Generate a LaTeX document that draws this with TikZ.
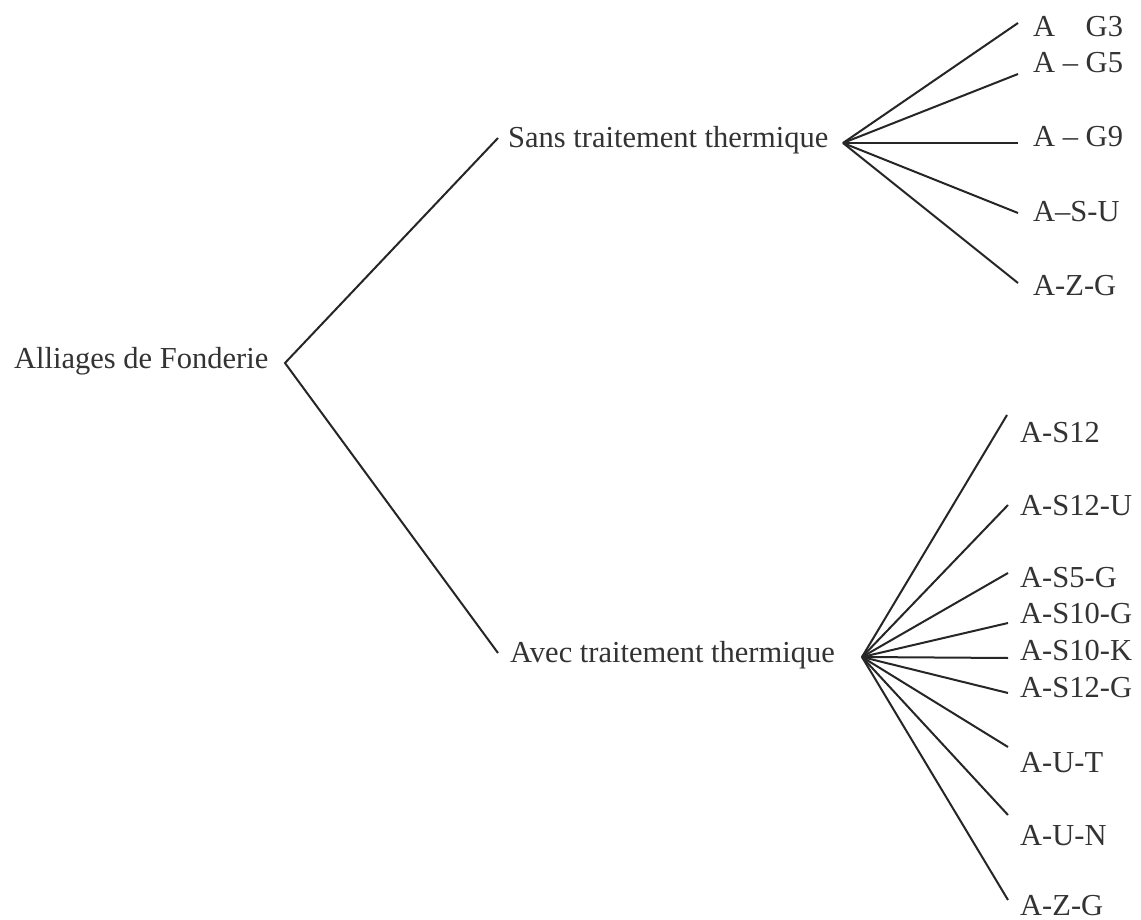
\documentclass[tikz,border=0pt]{standalone}
\usepackage{fontspec}
\setmainfont{Liberation Serif}
\begin{document}
\begin{tikzpicture}[x=1pt,y=-1pt,
  lbl/.style={anchor=base west,inner sep=0pt,text=black!80,font=\fontsize{30.5}{36}\selectfont},
  br/.style={draw=black!85,line width=2pt}]
\useasboundingbox[fill=white] (0,0) rectangle (1141,920);
% main nodes
\node[lbl] (root) at (14,368) {Alliages de Fonderie};
\node[lbl] (sans) at (508,148) {Sans traitement thermique};
\node[lbl] (avec) at (510,662) {Avec traitement thermique};
% hubs
\coordinate (hr) at (285,363);
\coordinate (hs) at (843,143);
\coordinate (ha) at (862,657);
\coordinate (es) at (498,138);
\coordinate (ea) at (498,653);
\draw[br] (es) -- (hr) -- (ea);
% Sans leaves
\node[lbl] (g3) at (1033,37) {A\phantom{ – }G3};
\node[lbl] (g5) at (1033,73) {A – G5};
\node[lbl] (g9) at (1033,147) {A – G9};
\node[lbl] (su) at (1033,222) {A–S-U};
\node[lbl] (zg1) at (1033,295) {A-Z-G};
\coordinate (c1) at (1018,23);
\coordinate (c2) at (1018,74);
\coordinate (c3) at (1018,143);
\coordinate (c4) at (1018,213);
\coordinate (c5) at (1018,283);
\foreach \c in {c1,c2,c3,c4,c5} \draw[br] (hs) -- (\c);
% Avec leaves
\node[lbl] (s12) at (1020,442) {A-S12};
\node[lbl] (s12u) at (1020,515) {A-S12-U};
\node[lbl] (s5g) at (1020,587) {A-S5-G};
\node[lbl] (s10g) at (1020,623) {A-S10-G};
\node[lbl] (s10k) at (1020,660) {A-S10-K};
\node[lbl] (s12g) at (1020,697) {A-S12-G};
\node[lbl] (ut) at (1020,772) {A-U-T};
\node[lbl] (un) at (1020,845) {A-U-N};
\node[lbl] (zg2) at (1020,915) {A-Z-G};
\coordinate (d1) at (1007,415);
\coordinate (d2) at (1008,505);
\coordinate (d3) at (1008,573);
\coordinate (d4) at (1008,623);
\coordinate (d5) at (1008,658);
\coordinate (d6) at (1008,693);
\coordinate (d7) at (1008,747);
\coordinate (d8) at (1008,815);
\coordinate (d9) at (1008,900);
\foreach \c in {d1,d2,d3,d4,d5,d6,d7,d8,d9} \draw[br] (ha) -- (\c);
\end{tikzpicture}
\end{document}
